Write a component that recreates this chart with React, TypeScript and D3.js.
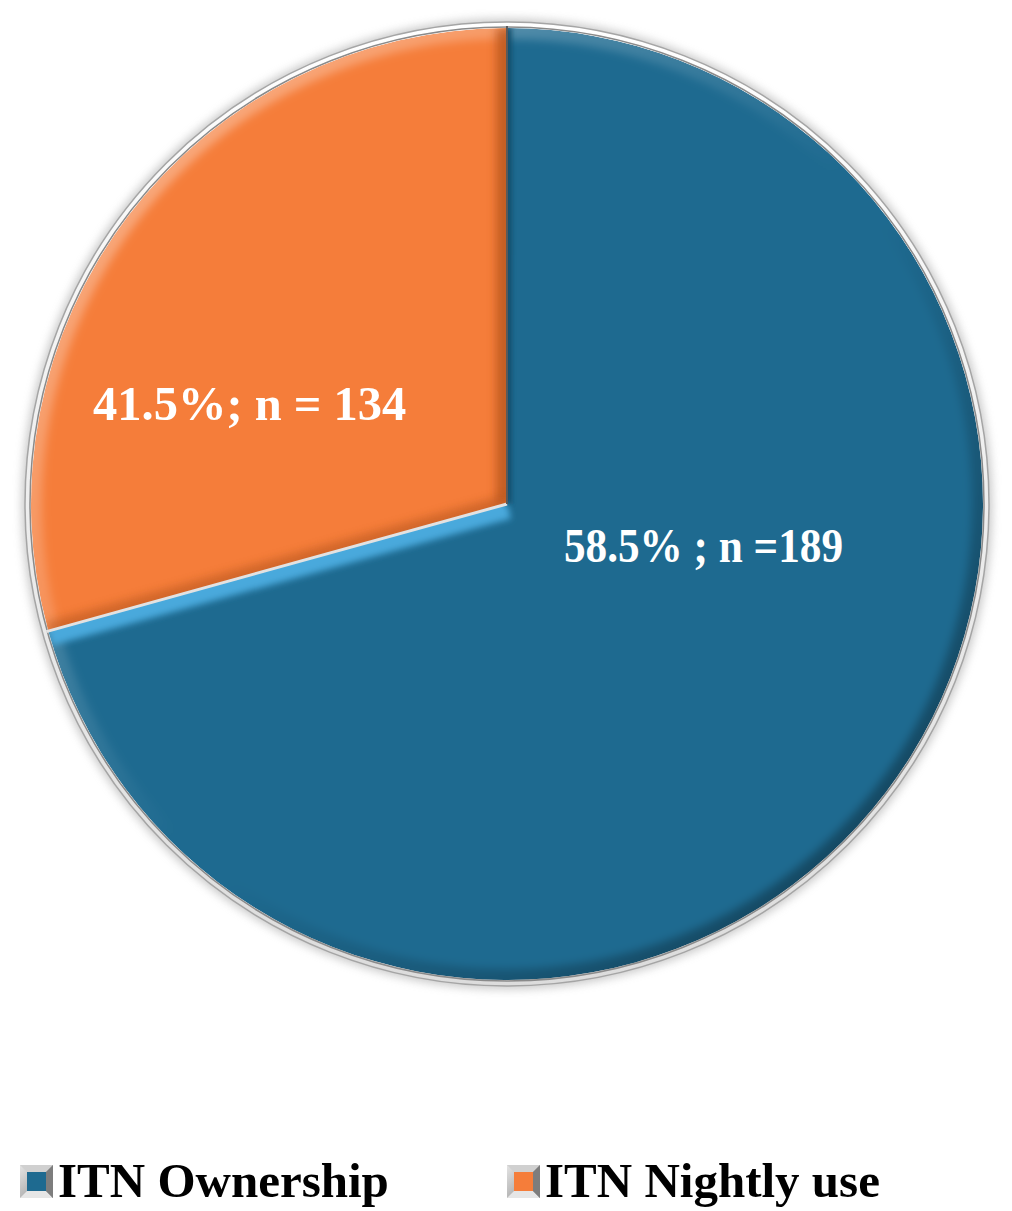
import React from "react";
import * as d3 from "d3";

// ---- data ----
const categories = ["ITN Ownership", "ITN Nightly use"];
const sliceLabels = ["58.5% ; n =189", "41.5%; n = 134"];
// angular shares as drawn in the picture (percent of the circle)
const drawnShares = [70.7, 29.3];
const sliceColors = ["#1e6a90", "#f57d3a"];
const lightEdge = ["#4aa9dc", "#f9a066"];
const darkEdge = ["#134b68", "#b5541f"];

const W = 1012;
const H = 1211;
const CX = 507;
const CY = 504;
const R = 476;
const FONT = "'Liberation Serif', 'Times New Roman', Times, serif";

export default function App() {
  const pie = d3
    .pie<number>()
    .sort(null)
    .startAngle(0)
    .endAngle(2 * Math.PI)
    .value((d) => d);
  const arcs = pie(drawnShares);
  const arcGen = d3.arc<d3.PieArcDatum<number>>().innerRadius(0).outerRadius(R);

  const boundaryAngles = [arcs[0].startAngle, arcs[1].startAngle];
  const edgePt = (a: number, r: number) => [r * Math.sin(a), -r * Math.cos(a)];
  const bp = edgePt(boundaryAngles[1], R);
  const bp2 = edgePt(boundaryAngles[1], R + 2);

  const fu = { filterUnits: "userSpaceOnUse" as const, x: -600, y: -600, width: 1200, height: 1200 };

  return (
    <svg
      width={W}
      height={H}
      viewBox={`0 0 ${W} ${H}`}
      style={{ position: "absolute", left: 0, top: 0, background: "#fff" }}
    >
      <defs>
        <filter id="blur4" {...fu}>
          <feGaussianBlur stdDeviation="4" />
        </filter>
        <filter id="blur3" {...fu}>
          <feGaussianBlur stdDeviation="3" />
        </filter>
        <filter id="blur2" {...fu}>
          <feGaussianBlur stdDeviation="2" />
        </filter>
        <filter id="shadow" {...fu}>
          <feGaussianBlur stdDeviation="5" />
        </filter>
        <linearGradient id="rimGrad" x1="0" y1="0" x2="0" y2="1">
          <stop offset="0" stopColor="#ffffff" />
          <stop offset="1" stopColor="#dcdcdc" />
        </linearGradient>
        <linearGradient id="arcLight" x1="0" y1="0" x2="1" y2="1">
          <stop offset="0" stopColor="#ffffff" stopOpacity="0.45" />
          <stop offset="0.5" stopColor="#ffffff" stopOpacity="0" />
          <stop offset="0.55" stopColor="#000000" stopOpacity="0" />
          <stop offset="1" stopColor="#000000" stopOpacity="0.45" />
        </linearGradient>
        {arcs.map((a, i) => (
          <clipPath id={`clip${i}`} key={i}>
            <path d={arcGen(a) || ""} />
          </clipPath>
        ))}
        <linearGradient id="legFrame" x1="0" y1="0" x2="1" y2="1">
          <stop offset="0" stopColor="#e4e4e4" />
          <stop offset="1" stopColor="#8c8c8c" />
        </linearGradient>
      </defs>

      <g transform={`translate(${CX},${CY})`}>
        {/* outer shadow and rim */}
        <circle r={R + 9} fill="#9a9a9a" opacity={0.55} filter="url(#shadow)" />
        <circle r={R + 6} fill="url(#rimGrad)" stroke="#a5a5a5" strokeWidth={1.5} />
        <circle r={R + 1} fill="none" stroke="#8a8a8a" strokeWidth={1.5} />

        {arcs.map((a, i) => (
          <g key={i} clipPath={`url(#clip${i})`}>
            <path d={arcGen(a) || ""} fill={sliceColors[i]} />
            {/* outer arc bevel: light top-left, dark bottom-right */}
            <circle
              r={R}
              fill="none"
              stroke="url(#arcLight)"
              strokeWidth={22}
              filter="url(#blur4)"
            />
            {i === 0 && (
              <>
                <line
                  x1={0}
                  y1={0}
                  x2={bp[0]}
                  y2={bp[1]}
                  stroke={lightEdge[0]}
                  strokeWidth={30}
                  filter="url(#blur3)"
                />
                <line
                  x1={0}
                  y1={0}
                  x2={0}
                  y2={-R}
                  stroke={darkEdge[0]}
                  strokeWidth={10}
                  opacity={0.8}
                  filter="url(#blur2)"
                />
              </>
            )}
            {i === 1 && (
              <>
                <line
                  x1={0}
                  y1={0}
                  x2={0}
                  y2={-R}
                  stroke={darkEdge[1]}
                  strokeWidth={22}
                  opacity={0.75}
                  filter="url(#blur4)"
                />
                <line
                  x1={0}
                  y1={0}
                  x2={bp[0]}
                  y2={bp[1]}
                  stroke={darkEdge[1]}
                  strokeWidth={18}
                  opacity={0.55}
                  filter="url(#blur4)"
                />
              </>
            )}
          </g>
        ))}

        {/* separators between slices */}
        <line x1={0} y1={0} x2={bp2[0]} y2={bp2[1]} stroke="#e2e2e2" strokeWidth={3} />
        <line x1={0} y1={0} x2={0} y2={-R - 2} stroke="#5a5a5a" strokeWidth={2} />
      </g>

      {/* slice labels */}
      <text x={93} y={420} fill="#ffffff" fontFamily={FONT} fontWeight="bold" fontSize={48.5}>
        {sliceLabels[1]}
      </text>
      <text
        x={564}
        y={562}
        fill="#ffffff"
        fontFamily={FONT}
        fontWeight="bold"
        fontSize={48}
        textLength={279}
        lengthAdjust="spacingAndGlyphs"
      >
        {sliceLabels[0]}
      </text>

      {/* legend */}
      {categories.map((c, i) => {
        const x0 = i === 0 ? 20 : 507;
        const y0 = 1165;
        const s = 33;
        const inset = 7;
        return (
          <g key={c}>
            <rect x={x0} y={y0} width={s} height={s} fill="url(#legFrame)" />
            <polygon
              points={`${x0},${y0} ${x0 + s},${y0} ${x0 + s - inset},${y0 + inset} ${x0 + inset},${y0 + inset}`}
              fill="#d0d0d0"
            />
            <polygon
              points={`${x0},${y0 + s} ${x0 + s},${y0 + s} ${x0 + s - inset},${y0 + s - inset} ${x0 + inset},${y0 + s - inset}`}
              fill="#e6e6e6"
            />
            <polygon
              points={`${x0 + s},${y0} ${x0 + s},${y0 + s} ${x0 + s - inset},${y0 + s - inset} ${x0 + s - inset},${y0 + inset}`}
              fill="#7d7d7d"
            />
            <rect
              x={x0 + inset}
              y={y0 + inset}
              width={s - 2 * inset}
              height={s - 2 * inset}
              fill={sliceColors[i]}
            />
            <text x={x0 + 38} y={1197} fontFamily={FONT} fontWeight="bold" fontSize={49} fill="#000">
              {c}
            </text>
          </g>
        );
      })}
    </svg>
  );
}
